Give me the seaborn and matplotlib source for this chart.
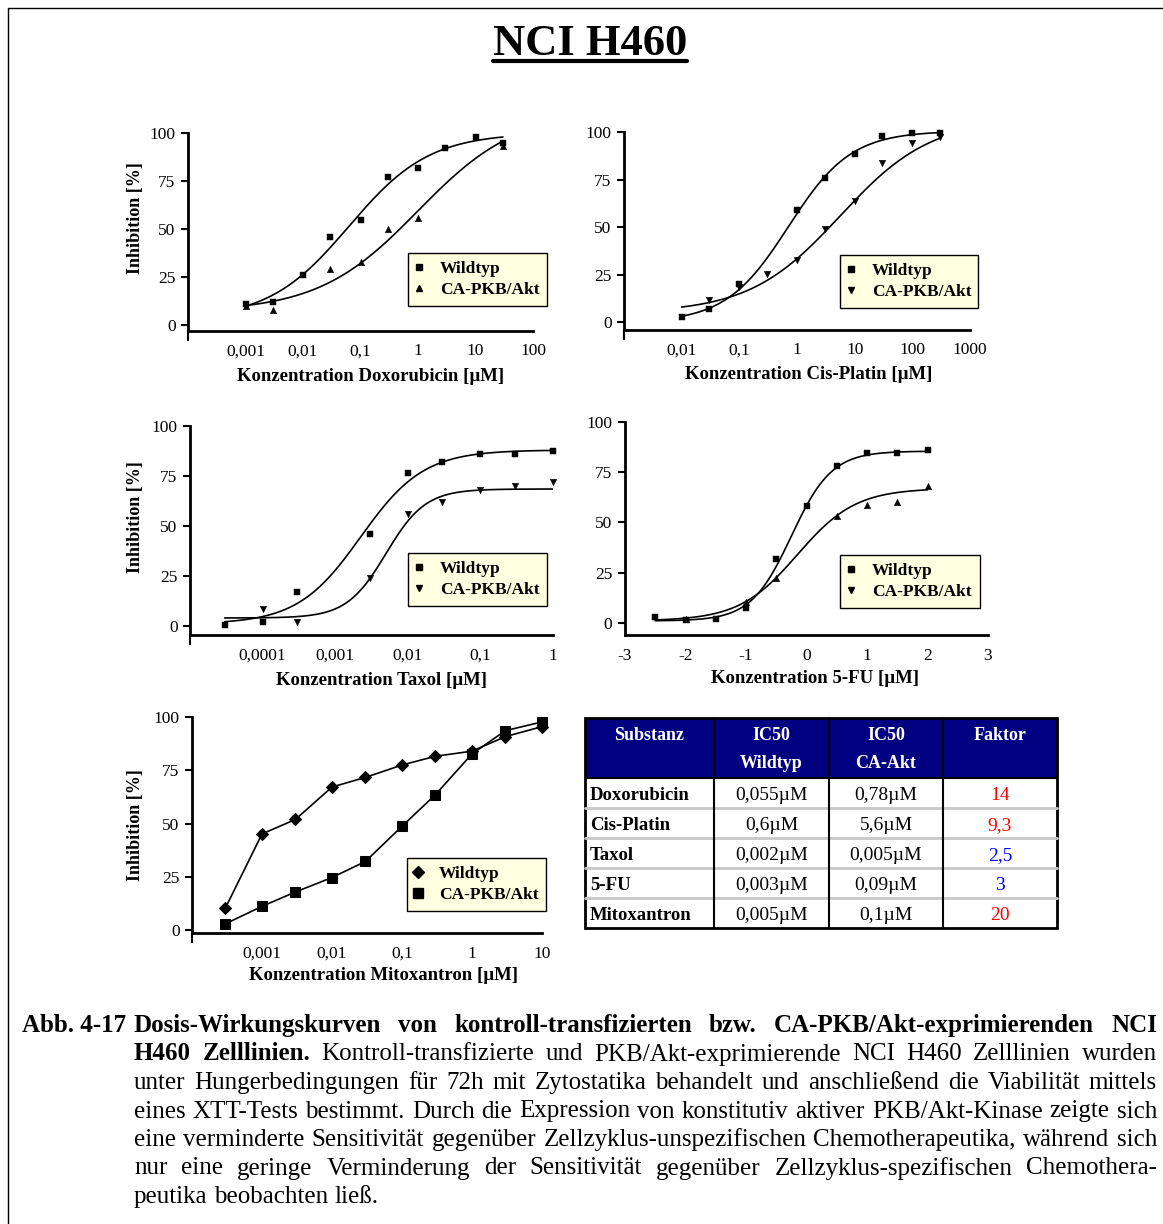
import numpy as np
import matplotlib
matplotlib.use("Agg")
import matplotlib.pyplot as plt
from matplotlib.lines import Line2D
from matplotlib.patches import Rectangle
from matplotlib.ticker import FixedLocator, NullFormatter
import seaborn as sns

W, H = 1163, 1224

# Doxorubicin
dox_conc_wt = [0.001, 0.003, 0.01, 0.03, 0.1, 0.3, 1, 3, 10, 30]
dox_wt = [11, 12, 26, 46, 55, 77, 82, 92, 98, 95]
dox_conc_ca = [0.001, 0.003, 0.03, 0.1, 0.3, 1, 30]
dox_ca = [10, 8, 29, 33, 50, 56, 93]

# Cis-Platin
cis_conc_wt = [0.01, 0.03, 0.1, 1, 3, 10, 30, 100, 300]
cis_wt = [3, 7, 20, 59, 76, 88.5, 98, 99.5, 99.5]
cis_conc_ca = [0.03, 0.1, 0.3, 1, 3, 10, 30, 100, 300]
cis_ca = [12, 18.5, 25.5, 33, 49, 63.5, 83.5, 94, 97.5]

# Taxol
tax_conc_wt = [3e-5, 1e-4, 3e-4, 3e-3, 0.01, 0.03, 0.1, 0.3, 1]
tax_wt = [0.7, 2, 17, 46, 76.5, 82, 86, 86, 87.5]
tax_conc_ca = [1e-4, 3e-4, 3e-3, 0.01, 0.03, 0.1, 0.3, 1]
tax_ca = [8.7, 2, 24, 56, 62, 68, 70, 72]

# 5-FU (x axis already in log units)
fu_log_wt = [-2.5, -2, -1.5, -1, -0.5, 0, 0.5, 1, 1.5, 2]
fu_wt = [3, 1.7, 2, 7.2, 32, 58, 78, 84.5, 84.4, 86]
fu_log_ca = [-2, -1, -0.5, 0.5, 1, 1.5, 2]
fu_ca = [2.2, 10.5, 22.5, 53, 58.5, 60, 68]

# Mitoxantron
mito_conc = [3e-4, 0.001, 0.003, 0.01, 0.03, 0.1, 0.3, 1, 3, 10]
mito_wt = [10.5, 45.2, 52, 67.2, 71.7, 77.5, 81.6, 84, 90.8, 95.5]
mito_ca = [3.1, 11.3, 18, 24.8, 32.3, 48.8, 63.6, 82.7, 93.6, 97.7]

# sigmoid fits (bottom, top, log EC50, hill slope)
dox_fit_wt = [3, 100, -1.2, 0.62]
dox_fit_ca = [7, 112, 0.0, 0.5]
cis_fit_wt = [0, 100.5, -0.15, 0.8]
cis_fit_ca = [5, 107, 0.75, 0.55]
tax_fit_wt = [1, 88, -2.65, 1.0]
tax_fit_ca = [4, 68.5, -2.3, 1.6]
fu_fit_wt = [1, 85.5, -0.25, 1.3]
fu_fit_ca = [1, 67, -0.15, 0.9]

series_names = ["Wildtyp", "CA-PKB/Akt"]
y_ticks = [0, 25, 50, 75, 100]

# IC50 table
table_head = ["Substanz", "IC50\nWildtyp", "IC50\nCA-Akt", "Faktor"]
substances = ["Doxorubicin", "Cis-Platin", "Taxol", "5-FU", "Mitoxantron"]
ic50_wt = ["0,055µM", "0,6µM", "0,002µM", "0,003µM", "0,005µM"]
ic50_ca = ["0,78µM", "5,6µM", "0,005µM", "0,09µM", "0,1µM"]
faktor = ["14", "9,3", "2,5", "3", "20"]

caption_label = "Abb. 4-17"
caption_lines = [
    ("Dosis-Wirkungskurven von kontroll-transfizierten bzw. CA-PKB/Akt-exprimierenden NCI", ""),
    ("H460 Zelllinien.", "Kontroll-transfizierte und PKB/Akt-exprimierende NCI H460 Zelllinien wurden"),
    ("", "unter Hungerbedingungen für 72h mit Zytostatika behandelt und anschließend die Viabilität mittels"),
    ("", "eines XTT-Tests bestimmt. Durch die Expression von konstitutiv aktiver PKB/Akt-Kinase zeigte sich"),
    ("", "eine verminderte Sensitivität gegenüber Zellzyklus-unspezifischen Chemotherapeutika, während sich"),
    ("", "nur eine geringe Verminderung der Sensitivität gegenüber Zellzyklus-spezifischen Chemothera-"),
    ("", "peutika beobachten ließ."),
]


def sigmoid(x, bottom, top, mid, hill):
    return bottom + (top - bottom) / (1 + 10 ** ((mid - x) * hill))


def px(x, y):
    # pixel position (from top left) -> figure fraction
    return x / W, 1 - y / H


def axRect(x0, y0, x1, y1):
    return [x0 / W, 1 - y1 / H, (x1 - x0) / W, (y1 - y0) / H]


def styleAxes(ax, fig, xlim, ylim, ticks, labels, xlabel, xlab_pos, ylab_pos=None, log=True):
    if log:
        ax.set_xscale("log")
    ax.set_xlim(xlim)
    ax.set_ylim(ylim)
    sns.despine(ax=ax)
    for side in ["left", "bottom"]:
        ax.spines[side].set_linewidth(2)
        ax.spines[side].set_color("black")
    ax.set_yticks(y_ticks, [str(t) for t in y_ticks])
    ax.set_xticks(ticks, labels)
    ax.xaxis.set_minor_locator(FixedLocator(list(xlim)))
    ax.xaxis.set_minor_formatter(NullFormatter())
    ax.tick_params(axis="y", length=5, width=1.5, pad=4, labelsize=12.5)
    ax.tick_params(axis="x", which="major", length=0, pad=9, labelsize=12.5)
    ax.tick_params(axis="x", which="minor", length=7, width=1.5)
    ax.set_xlabel(xlabel, fontsize=13.5, weight="bold")
    ax.xaxis.set_label_coords(*px(*xlab_pos), transform=fig.transFigure)
    if ylab_pos is not None:
        ax.set_ylabel("Inhibition [%]", fontsize=13, weight="bold")
        ax.yaxis.set_label_coords(*px(*ylab_pos), transform=fig.transFigure)
    else:
        ax.set_ylabel("")


def addLegend(ax, fig, box, markers, sizes):
    x0, y0, x1, y1 = box
    handles = [Line2D([], [], ls="none", marker=m, color="black", markersize=s)
               for m, s in zip(markers, sizes)]
    leg = ax.legend(handles, series_names, loc="upper left", mode="expand",
                    bbox_to_anchor=(x0 / W, 1 - y1 / H, (x1 - x0) / W, (y1 - y0) / H),
                    bbox_transform=fig.transFigure, borderaxespad=0, frameon=True,
                    fancybox=False, framealpha=1, facecolor="#FFFFE1", edgecolor="black",
                    handlelength=0.4, handletextpad=1.0, borderpad=0.45, labelspacing=0.3,
                    prop={"weight": "bold", "size": 12.5})
    leg.get_frame().set_linewidth(1)


def plotSigmoid(ax, conc_wt, wt, conc_ca, ca, fit_wt, fit_ca, mk_wt, mk_ca, log=True):
    # fitted curves over the tested range plus the measured points
    lo, hi = min(conc_wt + conc_ca), max(conc_wt + conc_ca)
    if log:
        grid = np.linspace(np.log10(lo), np.log10(hi), 300)
        xs = 10 ** grid
    else:
        grid = np.linspace(lo, hi, 300)
        xs = grid
    for fit in (fit_wt, fit_ca):
        sns.lineplot(x=xs, y=sigmoid(grid, *fit), ax=ax, color="black", linewidth=1.2,
                     estimator=None)
    sns.scatterplot(x=conc_wt, y=wt, ax=ax, marker=mk_wt, s=20, color="black",
                    edgecolor="black", linewidth=0.3, zorder=3, clip_on=False, legend=False)
    sns.scatterplot(x=conc_ca, y=ca, ax=ax, marker=mk_ca, s=22, color="black",
                    edgecolor="black", linewidth=0.3, zorder=3, clip_on=False, legend=False)


def drawTable(ax):
    col_w = [129, 115, 114, 114]
    edges = np.concatenate([[0], np.cumsum(col_w)])
    head_h, row_h = 60, 30
    total_h = head_h + row_h * len(substances)
    ax.set_xlim(0, edges[-1])
    ax.set_ylim(total_h, 0)
    ax.axis("off")
    ax.add_patch(Rectangle((0, 0), edges[-1], head_h, facecolor="#000080",
                           edgecolor="none", clip_on=False))
    centers = (edges[:-1] + edges[1:]) / 2
    for c, head in zip(centers, table_head):
        for k, part in enumerate(head.split("\n")):
            ax.text(c, 17 + 28 * k, part, ha="center", va="center", color="white",
                    fontsize=13, weight="bold")
    for i in range(len(substances)):
        yc = head_h + row_h * i + row_h / 2
        ax.text(5, yc + 3, substances[i], ha="left", va="center", fontsize=13.5, weight="bold")
        ax.text(centers[1], yc + 3, ic50_wt[i], ha="center", va="center", fontsize=14)
        ax.text(centers[2], yc + 3, ic50_ca[i], ha="center", va="center", fontsize=14)
        value = float(faktor[i].replace(",", "."))
        ax.text(centers[3], yc + 3, faktor[i], ha="center", va="center", fontsize=14,
                color="#FF0000" if value > 5 else "#0000FF")
        if i > 0:
            ax.plot([0, edges[-1]], [yc - row_h / 2] * 2, color="#C8C8C8", lw=2, clip_on=False)
    for e in edges[1:-1]:
        ax.plot([e, e], [0, total_h], color="black", lw=1.5, clip_on=False)
    ax.plot([0, edges[-1]], [head_h, head_h], color="black", lw=1.5, clip_on=False)
    ax.add_patch(Rectangle((0, 0), edges[-1], total_h, facecolor="none",
                           edgecolor="black", lw=2, clip_on=False))


def drawCaption(fig, renderer):
    size = 18
    left, right = 134, 1157
    base0, step = 1032, 28.5
    fig.text(*px(22, base0), caption_label, fontsize=size, weight="bold", va="baseline")
    probe = fig.text(0, 0, "a a", fontsize=size)
    probe2 = fig.text(0, 0, "aa", fontsize=size)
    space = probe.get_window_extent(renderer).width - probe2.get_window_extent(renderer).width
    probe.remove()
    probe2.remove()
    for i, (bold, plain) in enumerate(caption_lines):
        words = [(w, "bold") for w in bold.split()] + [(w, "normal") for w in plain.split()]
        y = base0 + step * i
        texts = [fig.text(0, 1 - y / H, w, fontsize=size, weight=wt, va="baseline")
                 for w, wt in words]
        widths = [t.get_window_extent(renderer).width for t in texts]
        if i < len(caption_lines) - 1:
            gap = (right - left - sum(widths)) / (len(words) - 1)
        else:
            gap = space
        x = left
        for t, wd in zip(texts, widths):
            t.set_x(x / W)
            x += wd + gap


def main():
    sns.set_theme(style="ticks", rc={"axes.edgecolor": "black", "text.color": "black",
                                     "xtick.color": "black", "ytick.color": "black",
                                     "axes.labelcolor": "black"})
    plt.rcParams["font.family"] = ["Liberation Serif", "DejaVu Serif"]
    plt.rcParams["axes.unicode_minus"] = False

    fig = plt.figure(figsize=(W / 100, H / 100), dpi=100)
    renderer = fig.canvas.get_renderer()

    # Doxorubicin
    ax1 = fig.add_axes(axRect(188, 133, 533, 331))
    plotSigmoid(ax1, dox_conc_wt, dox_wt, dox_conc_ca, dox_ca, dox_fit_wt, dox_fit_ca, "s", "^")
    styleAxes(ax1, fig, (1e-4, 100), (-3, 100), [0.001, 0.01, 0.1, 1, 10, 100],
              ["0,001", "0,01", "0,1", "1", "10", "100"], "Konzentration Doxorubicin [µM]",
              (371, 368), (144, 218))
    addLegend(ax1, fig, (408, 253, 547, 308), ["s", "^"], [4, 4.5])

    # Cis-Platin
    ax2 = fig.add_axes(axRect(624, 132, 970, 330))
    plotSigmoid(ax2, cis_conc_wt, cis_wt, cis_conc_ca, cis_ca, cis_fit_wt, cis_fit_ca, "s", "v")
    styleAxes(ax2, fig, (1e-3, 1000), (-4, 100), [0.01, 0.1, 1, 10, 100, 1000],
              ["0,01", "0,1", "1", "10", "100", "1000"], "Konzentration Cis-Platin [µM]",
              (809, 366))
    addLegend(ax2, fig, (840, 255, 978, 310), ["s", "v"], [4, 4.5])

    # Taxol
    ax3 = fig.add_axes(axRect(190, 426, 553, 635))
    plotSigmoid(ax3, tax_conc_wt, tax_wt, tax_conc_ca, tax_ca, tax_fit_wt, tax_fit_ca, "s", "v")
    styleAxes(ax3, fig, (1e-5, 1), (-4.5, 100), [1e-4, 1e-3, 0.01, 0.1, 1],
              ["0,0001", "0,001", "0,01", "0,1", "1"], "Konzentration Taxol [µM]",
              (381, 672), (144, 517))
    addLegend(ax3, fig, (408, 553, 547, 608), ["s", "v"], [4, 4.5])

    # 5-FU
    ax4 = fig.add_axes(axRect(625, 422, 988, 635))
    plotSigmoid(ax4, fu_log_wt, fu_wt, fu_log_ca, fu_ca, fu_fit_wt, fu_fit_ca, "s", "^", log=False)
    styleAxes(ax4, fig, (-3, 3), (-6, 100), [-3, -2, -1, 0, 1, 2, 3],
              ["-3", "-2", "-1", "0", "1", "2", "3"], "Konzentration 5-FU [µM]",
              (815, 670), log=False)
    addLegend(ax4, fig, (840, 555, 980, 610), ["s", "v"], [4, 4.5])

    # Mitoxantron
    ax5 = fig.add_axes(axRect(192, 717, 542, 933))
    sns.lineplot(x=mito_conc, y=mito_wt, ax=ax5, color="black", linewidth=1.2, estimator=None,
                 marker="D", markersize=6.5, markeredgecolor="black", clip_on=False)
    sns.lineplot(x=mito_conc, y=mito_ca, ax=ax5, color="black", linewidth=1.2, estimator=None,
                 marker="s", markersize=7, markeredgecolor="black", clip_on=False)
    styleAxes(ax5, fig, (1e-4, 10), (-1.2, 100), [0.001, 0.01, 0.1, 1, 10],
              ["0,001", "0,01", "0,1", "1", "10"], "Konzentration Mitoxantron [µM]",
              (383, 967), (144, 825))
    addLegend(ax5, fig, (407, 858, 546, 915), ["D", "s"], [6, 7])

    # IC50 table
    axt = fig.add_axes(axRect(585, 718, 1057, 928))
    drawTable(axt)

    # title with underline
    title = fig.text(*px(590, 55), "NCI H460", ha="center", va="baseline",
                     fontsize=32, weight="bold")
    bb = title.get_window_extent(renderer)
    fig.add_artist(Line2D([bb.x0 / W, bb.x1 / W], [1 - 61 / H] * 2, color="black", lw=3))

    # page frame (top and left edges)
    fig.add_artist(Line2D([8 / W, 1], [1 - 8 / H] * 2, color="black", lw=1))
    fig.add_artist(Line2D([8 / W, 8 / W], [0, 1 - 8 / H], color="black", lw=1))

    drawCaption(fig, renderer)

    fig.savefig("out.png", dpi=100)
    plt.close(fig)


if __name__ == "__main__":
    main()
